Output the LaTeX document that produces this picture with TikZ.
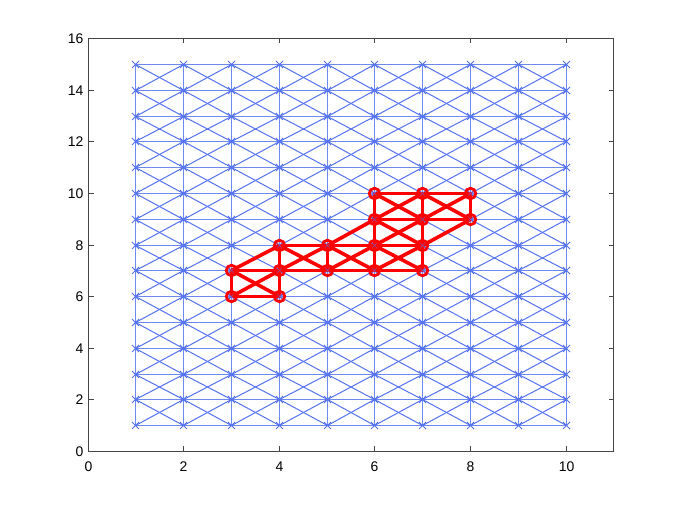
\documentclass[tikz,border=0pt]{standalone}
\usepackage{fontspec}
\setmainfont{Liberation Sans}
\usetikzlibrary{shapes.misc}
\definecolor{gblue}{RGB}{85,115,240}
\definecolor{axgray}{RGB}{70,70,70}
\tikzset{
  gridline/.style={draw=gblue, line width=1bp},
  axline/.style={draw=gblue!85!white, line width=1.6bp},
  bluex/.style={cross out, draw=gblue, line width=1bp, minimum size=6bp, inner sep=0pt},
  smallx/.style={cross out, draw=gblue!70!red, line width=0.6bp, minimum size=3.5bp, inner sep=0pt},
  redline/.style={draw=red, line width=3.6bp},
  redo/.style={circle, draw=red, line width=2.8bp, minimum size=10.5bp, inner sep=0pt},
  axisline/.style={draw=axgray, line width=1bp},
  ticklbl/.style={font=\fontsize{14}{16}\selectfont, text=black, inner sep=0pt}
}
\begin{document}
\begin{tikzpicture}[x=1bp,y=1bp]
\fill[white] (0,0) rectangle (677,508);
\useasboundingbox (0,0) rectangle (677,508);
% axis positions
\foreach \i in {0,...,11} {\pgfmathsetmacro{\xx}{floor(88+47.8*\i)+0.5}\coordinate (X-\i) at (\xx,0);}
\foreach \j in {0,...,16} {\pgfmathsetmacro{\yy}{floor(56.5+25.8*\j)+0.5}\coordinate (Y-\j) at (0,\yy);}
% grid points
\foreach \i in {1,...,10} {\foreach \j in {1,...,15} {\coordinate (p-\i-\j) at (X-\i |- Y-\j);}}
% blue graph: horizontal edges
\foreach \i in {1,...,9} {\foreach \j in {1,...,15} {
  \pgfmathtruncatemacro{\k}{\i+1}
  \path[axline] (p-\i-\j) -- (p-\k-\j);
}}
% vertical edges
\foreach \i in {1,...,10} {\foreach \j in {1,...,14} {
  \pgfmathtruncatemacro{\l}{\j+1}
  \path[axline] (p-\i-\j) -- (p-\i-\l);
}}
% diagonal edges
\foreach \i in {1,...,9} {\foreach \j in {1,...,14} {
  \pgfmathtruncatemacro{\k}{\i+1}
  \pgfmathtruncatemacro{\l}{\j+1}
  \path[gridline] (p-\i-\j) -- (p-\k-\l);
  \path[gridline] (p-\i-\l) -- (p-\k-\j);
}}
\foreach \i in {1,...,10} {\foreach \j in {1,...,15} {\node[bluex] (m-\i-\j) at (p-\i-\j) {};}}
% red subgraph edges
\foreach \a/\b/\c/\d in {3/6/4/6, 3/7/4/7, 4/7/5/7, 5/7/6/7, 6/7/7/7, 4/8/5/8, 5/8/6/8, 6/8/7/8,
    6/9/7/9, 7/9/8/9, 6/10/7/10, 7/10/8/10,
    3/6/3/7, 4/6/4/7, 4/7/4/8, 5/7/5/8, 6/7/6/8, 6/8/6/9, 6/9/6/10, 7/7/7/8, 7/8/7/9, 7/9/7/10, 8/9/8/10,
    3/7/4/8, 5/8/6/9, 7/8/8/9}
  {\path[redline] (p-\a-\b) -- (p-\c-\d);}
\foreach \a/\b in {3/6, 4/7, 5/7, 6/7, 6/8, 6/9, 7/9} {
  \pgfmathtruncatemacro{\c}{\a+1}
  \pgfmathtruncatemacro{\d}{\b+1}
  \path[redline] (p-\a-\b) -- (p-\c-\d);
  \path[redline] (p-\a-\d) -- (p-\c-\b);
}
% red nodes
\foreach \a/\b in {3/6, 4/6, 3/7, 4/7, 5/7, 6/7, 7/7, 4/8, 5/8, 6/8, 7/8, 6/9, 7/9, 8/9, 6/10, 7/10, 8/10} {
  \node[redo] (r-\a-\b) at (p-\a-\b) {};
  \node[smallx] at (r-\a-\b) {};
}
% axes box
\path[axisline] (X-0 |- Y-0) rectangle (X-11 |- Y-16);
\foreach \x in {0,2,...,10} {
  \path[axisline] (X-\x |- Y-0) -- ++(0,5);
  \path[axisline] (X-\x |- Y-16) -- ++(0,-5);
  \node[ticklbl, anchor=north] at ([yshift=-10bp]X-\x |- Y-0) {\x};
}
\foreach \y in {0,2,...,16} {
  \path[axisline] (X-0 |- Y-\y) -- ++(5,0);
  \path[axisline] (X-11 |- Y-\y) -- ++(-5,0);
  \node[ticklbl, anchor=east] at ([xshift=-5bp]X-0 |- Y-\y) {\y};
}
\end{tikzpicture}
\end{document}
